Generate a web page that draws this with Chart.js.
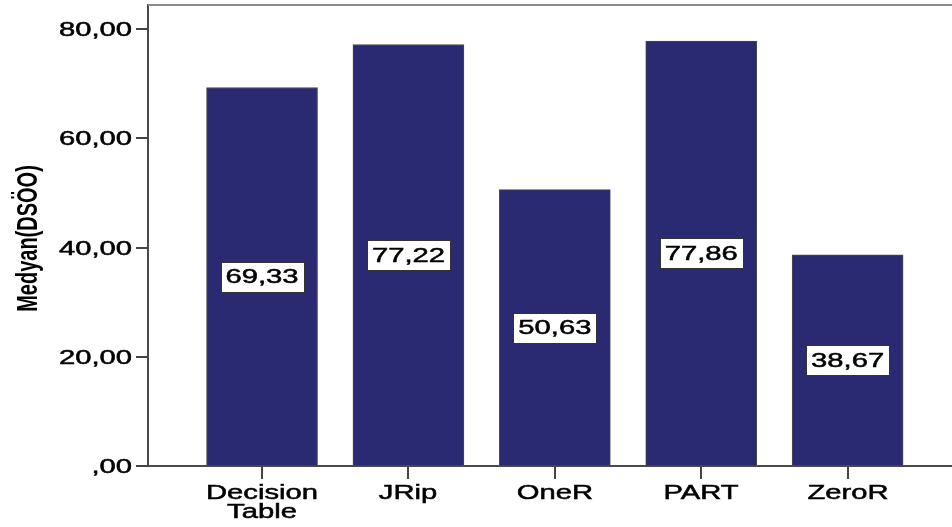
<!DOCTYPE html>
<html>
<head>
<meta charset="utf-8">
<script src="https://cdn.jsdelivr.net/npm/chart.js@4/dist/chart.umd.min.js"></script>
<style>
  html, body { margin: 0; padding: 0; background: #fff; overflow: hidden; }
  #wrap { width: 952px; height: 527px; position: relative; }
</style>
</head>
<body>
<div id="wrap"><canvas id="chart"></canvas></div>
<script>
// --- Data ---
const categories = [['Decision', 'Table'], ['JRip'], ['OneR'], ['PART'], ['ZeroR']];
const medians = [69.33, 77.22, 50.63, 77.86, 38.67];
const yTicks = [0, 20, 40, 60, 80];
const yTickLabels = [',00', '20,00', '40,00', '60,00', '80,00'];
const yTitle = 'Medyan(DSÖO)';

// SPSS export is horizontally stretched, so every text gets the same squash factor
const SX = 1.46;
const FONT = '"Liberation Sans", Arial, sans-serif';

function fmt(v) {
    return v.toFixed(2).replace('.', ',');
}

// wide text with a hairline stroke so it reads as heavy as the SPSS output
function wideText(ctx, text, x, y, align) {
    ctx.save();
    ctx.translate(x, y);
    ctx.scale(SX, 1);
    ctx.textAlign = align;
    ctx.fillText(text, 0, 0);
    ctx.lineWidth = 0.5;
    ctx.strokeStyle = ctx.fillStyle;
    ctx.strokeText(text, 0, 0);
    ctx.restore();
}

// --- Axis text, tick marks, frame and value boxes ---
const spssDecor = {
    id: 'spssDecor',
    afterDraw(chart) {
        const ctx = chart.ctx;
        const area = chart.chartArea;
        const xs = chart.scales.x;
        const ys = chart.scales.y;

        ctx.save();
        // top frame line
        ctx.strokeStyle = '#8c8c8c';
        ctx.lineWidth = 2;
        ctx.beginPath();
        ctx.moveTo(area.left, area.top);
        ctx.lineTo(area.right, area.top);
        ctx.stroke();

        // y ticks + labels
        ctx.fillStyle = '#000';
        ctx.font = '20px ' + FONT;
        ctx.textBaseline = 'middle';
        yTicks.forEach((t, i) => {
            const py = Math.round(ys.getPixelForValue(t));
            ctx.strokeStyle = '#444';
            ctx.lineWidth = 2;
            ctx.beginPath();
            ctx.moveTo(area.left - 12, py);
            ctx.lineTo(area.left, py);
            ctx.stroke();
            wideText(ctx, yTickLabels[i], area.left - 16, py + 1, 'right');
        });

        // x ticks + category labels
        ctx.textBaseline = 'alphabetic';
        categories.forEach((lines, i) => {
            const px = Math.round(xs.getPixelForValue(i));
            ctx.strokeStyle = '#444';
            ctx.lineWidth = 2;
            ctx.beginPath();
            ctx.moveTo(px, area.bottom);
            ctx.lineTo(px, area.bottom + 13);
            ctx.stroke();
            lines.forEach((ln, j) => {
                wideText(ctx, ln, px, area.bottom + 33 + j * 19, 'center');
            });
        });

        // y axis title
        ctx.save();
        ctx.translate(29, (area.top + area.bottom) / 2 + 3);
        ctx.rotate(-Math.PI / 2);
        ctx.scale(1, SX);
        ctx.font = 'bold 20px ' + FONT;
        ctx.textAlign = 'center';
        ctx.textBaseline = 'middle';
        ctx.fillText(yTitle, 0, 0);
        ctx.restore();

        // value boxes at the middle of each bar
        ctx.font = '20px ' + FONT;
        ctx.textBaseline = 'middle';
        medians.forEach((v, i) => {
            const txt = fmt(v);
            const cx = xs.getPixelForValue(i);
            const cy = (ys.getPixelForValue(v) + ys.getPixelForValue(0)) / 2;
            const w = Math.round(ctx.measureText(txt).width * SX + 10);
            const h = 30;
            const bx = Math.round(cx - w / 2) + 0.5;
            const by = Math.round(cy - h / 2) + 0.5;
            ctx.fillStyle = '#fff';
            ctx.fillRect(bx, by, w, h);
            ctx.strokeStyle = '#333';
            ctx.lineWidth = 1;
            ctx.strokeRect(bx, by, w, h);
            ctx.fillStyle = '#000';
            wideText(ctx, txt, cx, cy + 1, 'center');
        });
        ctx.restore();
    }
};

const ctx = document.getElementById('chart').getContext('2d');
new Chart(ctx, {
    type: 'bar',
    data: {
        datasets: [{
            data: medians.map((v, i) => ({ x: i, y: v })),
            backgroundColor: '#2a2a72',
            borderColor: '#4a4a4a',
            borderWidth: 1,
            borderSkipped: false,
            barThickness: 111
        }]
    },
    options: {
        responsive: true,
        maintainAspectRatio: false,
        devicePixelRatio: 1,
        animation: false,
        layout: { padding: { left: 148, top: 5, right: 0, bottom: 61 } },
        plugins: { legend: { display: false }, tooltip: { enabled: false } },
        scales: {
            x: {
                type: 'linear',
                offset: false,
                min: -0.779,
                max: 4.713,
                ticks: { display: false },
                grid: { display: false, drawTicks: false, offset: false },
                border: { display: true, color: '#4a4a4a', width: 2 }
            },
            y: {
                min: 0,
                max: 84.45,
                ticks: { display: false },
                grid: { display: false, drawTicks: false },
                border: { display: true, color: '#4a4a4a', width: 2 }
            }
        }
    },
    plugins: [spssDecor]
});
</script>
</body>
</html>
